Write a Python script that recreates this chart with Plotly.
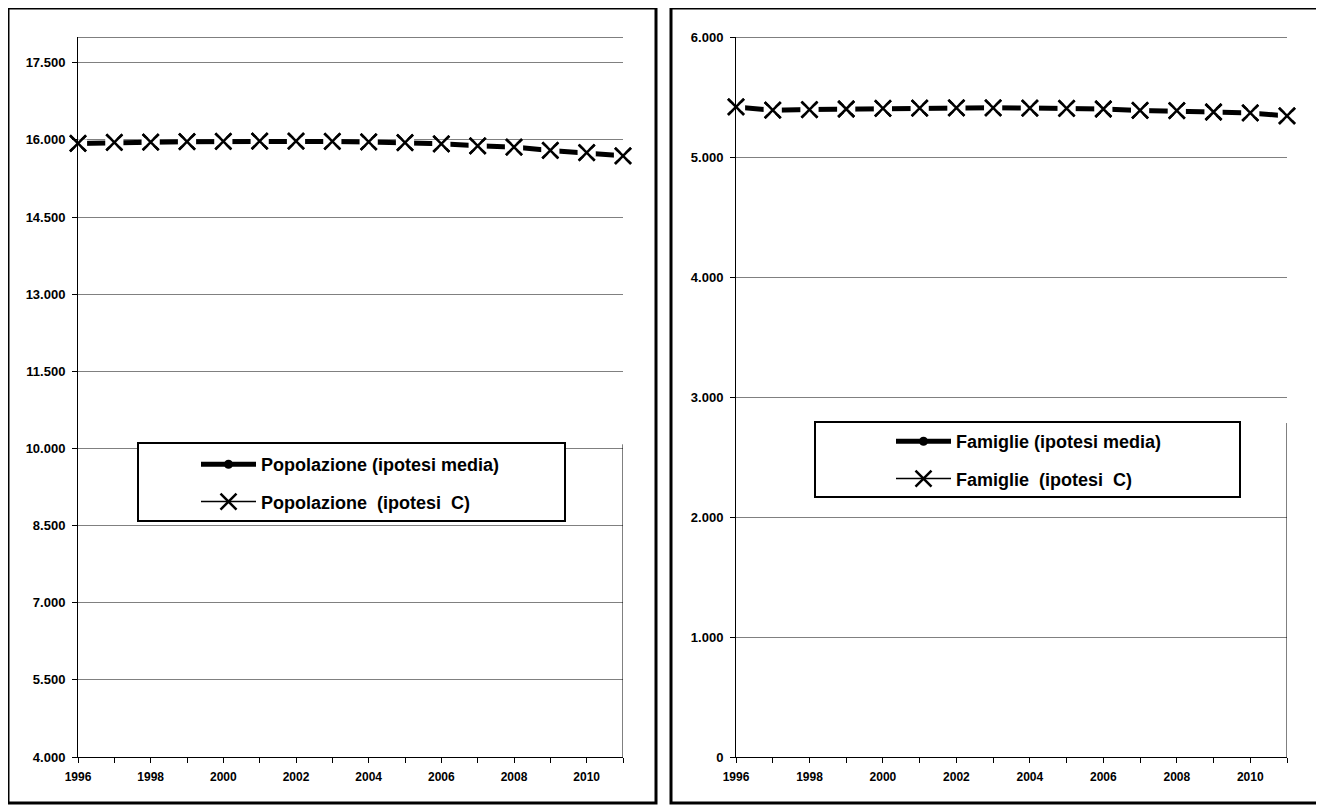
import plotly.graph_objects as go

years = list(range(1996, 2012))

pop_media = [15930, 15950, 15955, 15965, 15970, 15975, 15975, 15970, 15960, 15945,
             15922, 15885, 15860, 15795, 15750, 15690]
pop_c = [15930, 15950, 15955, 15965, 15970, 15975, 15975, 15970, 15960, 15945,
         15922, 15885, 15860, 15795, 15750, 15690]

fam_media = [5417, 5390, 5395, 5400, 5405, 5408, 5410, 5410, 5408, 5405,
             5400, 5388, 5386, 5375, 5367, 5342]
fam_c = [5417, 5390, 5395, 5400, 5405, 5408, 5410, 5410, 5408, 5405,
         5400, 5388, 5386, 5375, 5367, 5342]

pop_names = ["Popolazione (ipotesi media)", "Popolazione\u00a0 (ipotesi\u00a0 C)"]
fam_names = ["Famiglie (ipotesi media)", "Famiglie\u00a0 (ipotesi\u00a0 C)"]

W, H = 1324, 807
OFF = 8  # page body margin
FONT = "Arial, Liberation Sans, sans-serif"

def px(x):
    return (x - OFF) / W

def py(y):
    return 1 - (y - OFF) / H

fig = go.Figure()

def add_series(xa, ya, leg, media, cvals, names):
    xmark = dict(symbol="x-thin-open", size=16, color="black",
                 line=dict(color="black", width=2.5))
    # C scenario (thin line, legend entry)
    fig.add_trace(go.Scatter(x=years, y=cvals, mode="lines+markers", xaxis=xa, yaxis=ya,
                             name=names[1], legend=leg, legendgroup=leg + "b", legendrank=2,
                             line=dict(color="black", width=1.5), marker=xmark,
                             cliponaxis=False, hoverinfo="skip"))
    # thick line for media scenario
    fig.add_trace(go.Scatter(x=years, y=media, mode="lines", xaxis=xa, yaxis=ya,
                             line=dict(color="black", width=5), showlegend=False,
                             cliponaxis=False, hoverinfo="skip"))
    # white gaps around the markers
    fig.add_trace(go.Scatter(x=years, y=cvals, mode="markers", xaxis=xa, yaxis=ya,
                             marker=dict(symbol="line-ew-open", size=13, color="white",
                                         line=dict(color="white", width=8)),
                             showlegend=False, cliponaxis=False, hoverinfo="skip"))
    # X markers on top
    fig.add_trace(go.Scatter(x=years, y=cvals, mode="markers", xaxis=xa, yaxis=ya,
                             marker=xmark, showlegend=False, cliponaxis=False,
                             hoverinfo="skip"))
    # legend entry for media scenario
    fig.add_trace(go.Scatter(x=[None], y=[None], mode="lines+markers", xaxis=xa, yaxis=ya,
                             name=names[0], legend=leg, legendgroup=leg + "a", legendrank=1,
                             line=dict(color="black", width=5),
                             marker=dict(symbol="circle", size=9, color="black")))

add_series("x", "y", "legend", pop_media, pop_c, pop_names)
add_series("x2", "y2", "legend2", fam_media, fam_c, fam_names)

ytickfont = dict(family=FONT, size=13, color="black", weight="bold")
xtickfont = dict(family=FONT, size=12, color="black", weight="bold")

xcommon = dict(range=[1996, 2011], dtick=2, tick0=1996, ticks="outside", ticklen=5,
               tickcolor="black", showline=True, linecolor="black", linewidth=1,
               showgrid=False, zeroline=False, tickfont=xtickfont, automargin=False,
               ticklabelstandoff=4,
               minor=dict(dtick=1, ticks="outside", ticklen=5, tickcolor="black", showgrid=False))
ycommon = dict(ticks="outside", ticklen=5, tickcolor="black", showline=True,
               linecolor="black", linewidth=1, showgrid=True, gridcolor="#808080",
               gridwidth=1, zeroline=False, tickfont=ytickfont, tickformat=",d",
               automargin=False, ticklabelstandoff=4)

legfont = dict(family=FONT, size=18, color="black", weight="bold")

ydom = [py(757), py(37)]
fig.update_layout(
    width=W, height=H, autosize=False,
    margin=dict(l=0, r=0, t=0, b=0, pad=0),
    plot_bgcolor="white", paper_bgcolor="white",
    separators=",.",
    xaxis=dict(domain=[px(78), px(623)], anchor="y", **xcommon),
    yaxis=dict(domain=ydom, anchor="x", range=[4000, 18000], tick0=4000, dtick=1500, **ycommon),
    xaxis2=dict(domain=[px(736), px(1287)], anchor="y2", **xcommon),
    yaxis2=dict(domain=ydom, anchor="x2", range=[0, 6000], tick0=0, dtick=1000, **ycommon),
    legend=dict(x=px(196), y=py(446), xanchor="left", yanchor="top",
                bgcolor="rgba(0,0,0,0)", borderwidth=0, tracegroupgap=11, itemwidth=55,
                font=legfont),
    legend2=dict(x=px(891), y=py(423), xanchor="left", yanchor="top",
                 bgcolor="rgba(0,0,0,0)", borderwidth=0, tracegroupgap=11, itemwidth=55,
                 font=legfont),
    showlegend=True,
)

shapes = []
# outer panel frames
shapes.append(dict(type="rect", xref="paper", yref="paper", x0=px(8), x1=px(656),
                   y0=py(803), y1=py(8), line=dict(color="black", width=3)))
shapes.append(dict(type="rect", xref="paper", yref="paper", x0=px(671), x1=px(1320),
                   y0=py(803), y1=py(8), line=dict(color="black", width=3)))
# plot-area top borders
shapes.append(dict(type="line", xref="x", yref="y", x0=1996, x1=2011, y0=18000, y1=18000,
                   line=dict(color="black", width=1)))
shapes.append(dict(type="line", xref="x2", yref="y2", x0=1996, x1=2011, y0=6000, y1=6000,
                   line=dict(color="black", width=1)))
# partial plot-area right borders
shapes.append(dict(type="line", xref="x", yref="y", x0=2011, x1=2011, y0=4000, y1=10080,
                   line=dict(color="black", width=1)))
shapes.append(dict(type="line", xref="x2", yref="y2", x0=2011, x1=2011, y0=0, y1=2783,
                   line=dict(color="black", width=1)))
# legend boxes
shapes.append(dict(type="rect", xref="paper", yref="paper", x0=px(138), x1=px(565),
                   y0=py(521), y1=py(443), line=dict(color="black", width=2),
                   fillcolor="white", layer="above"))
shapes.append(dict(type="rect", xref="paper", yref="paper", x0=px(815), x1=px(1240),
                   y0=py(497), y1=py(422), line=dict(color="black", width=2),
                   fillcolor="white", layer="above"))
fig.update_layout(shapes=shapes)

fig.write_html("out.html")
